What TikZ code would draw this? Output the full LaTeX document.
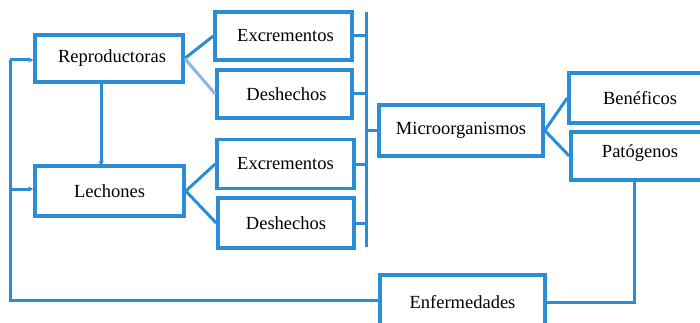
\documentclass[tikz,border=0pt]{standalone}
\usepackage{fontspec}
\setmainfont{Liberation Serif}
\usetikzlibrary{arrows.meta}
\definecolor{mblue}{RGB}{42,141,214}
\definecolor{lblue}{RGB}{140,182,222}
\begin{document}
\begin{tikzpicture}[x=1pt,y=-1pt,
  box/.style={draw=mblue,line width=3.5pt,fill=white,rectangle,inner sep=0pt,font=\fontsize{18.5}{21}\selectfont},
  conn/.style={draw=mblue,line width=3pt},
  arr/.style={conn,-{Stealth[length=5pt,width=5pt]}}]
\useasboundingbox (0,0) rectangle (700,323);
\clip (0,0) rectangle (700,323);
\node[box,minimum width=148,minimum height=47] (rep) at (109,58.5) {\hspace*{6pt}Reproductoras};
\node[box,minimum width=137,minimum height=48] (exa) at (283.5,36) {\hspace*{4pt}Excrementos};
\node[box,minimum width=135,minimum height=48] (dea) at (284.5,94) {\hspace*{4pt}Deshechos};
\node[box,minimum width=137,minimum height=49] (exb) at (285.5,164) {Excrementos};
\node[box,minimum width=136,minimum height=50] (deb) at (286,223) {Deshechos};
\node[box,minimum width=149,minimum height=50] (lec) at (109.5,191) {Lechones};
\node[box,minimum width=164,minimum height=51] (mic) at (461,130.5) {Microorganismos};
\node[box,minimum width=142,minimum height=50] (ben) at (640,98) {Benéficos};
\node[box,minimum width=140,minimum height=48] (pat) at (641,156) {};
\node[font=\fontsize{18.5}{21}\selectfont] (patt) at (640,153) {Patógenos};
\node[box,minimum width=165,minimum height=54] (enf) at (462.5,302) {Enfermedades};
% bus
\coordinate (bt) at (366,12);
\coordinate (bb) at (366,247);
\draw[conn] (bt) -- (bb);
\draw[conn] (exa.east) -- (exa.east -| bt);
\draw[conn] (dea.east) -- (dea.east -| bt);
\draw[conn] (exb.east) -- (exb.east -| bt);
\draw[conn] (deb.east) -- (deb.east -| bt);
\draw[conn] (mic.west) -- (mic.west -| bt);
% fan-outs
\draw[conn] (rep.east) -- (exa.west);
\draw[draw=lblue,line width=3pt] (rep.east) -- (dea.west);
\draw[conn] (lec.east) -- (exb.west);
\draw[conn] (lec.east) -- (deb.west);
\draw[conn] (mic.east) -- (ben.west);
\draw[conn] (mic.east) -- (pat.west);
% rep to lechones
\coordinate (rb) at (101,83);
\coordinate (lt) at (101,166);
\draw[arr] (rb) -- (lt);
% feedback
\coordinate (pb) at (634,180);
\coordinate (pc) at (634,302);
\coordinate (lc) at (10,300);
\coordinate (lu) at (10,60);
\coordinate (lm) at (10,189);
\draw[conn] (pb) -- (pc) -- (enf.east);
\draw[conn] (enf.west |- lc) -- (lc) -- (lu);
\draw[arr] (lu) -- (rep.west |- lu);
\draw[arr] (lm) -- (lec.west |- lm);
\end{tikzpicture}
\end{document}
